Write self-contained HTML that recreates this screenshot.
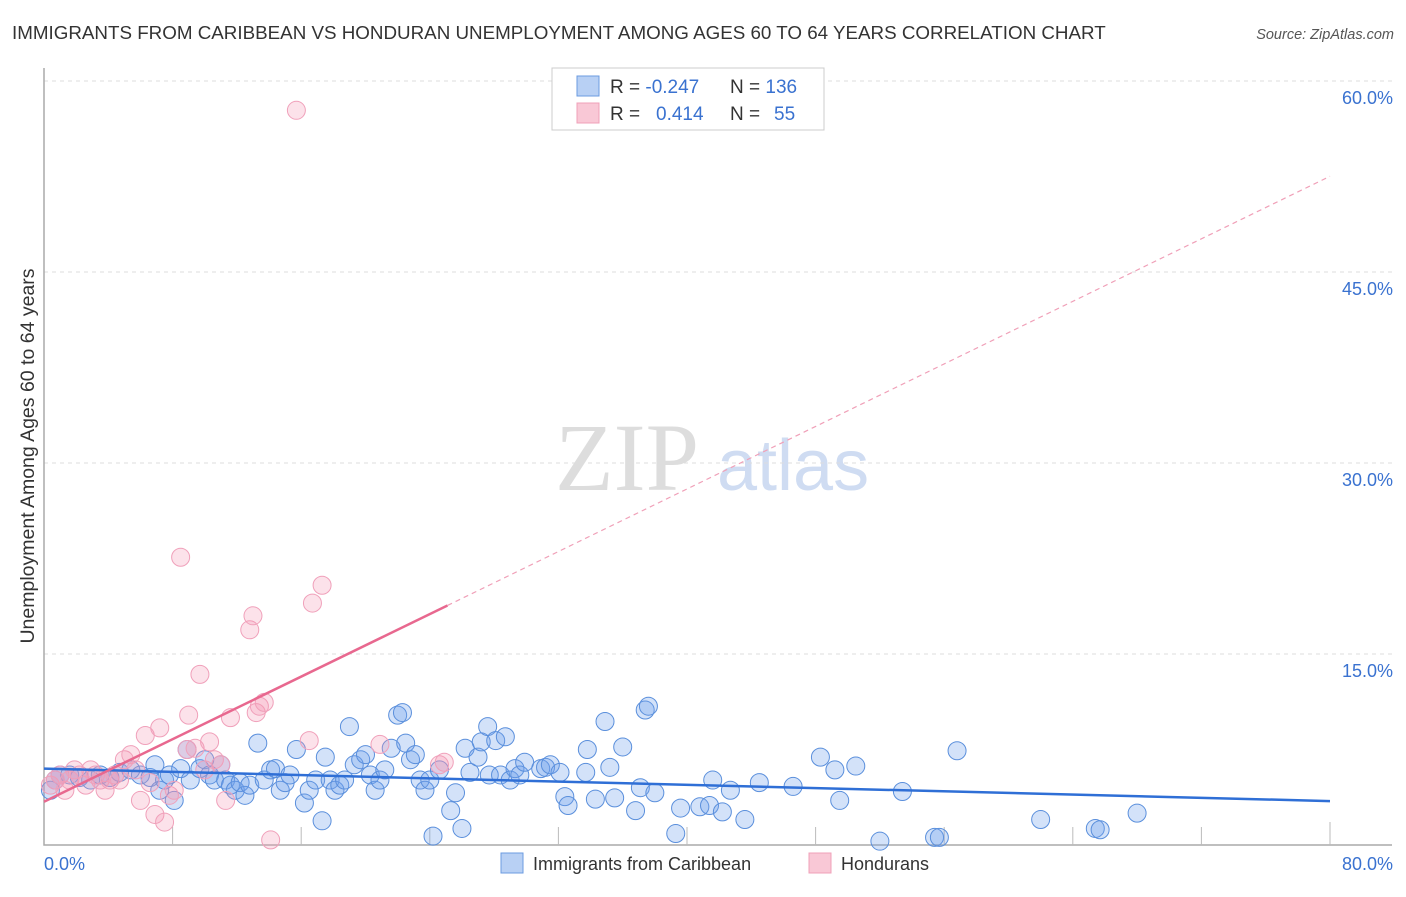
<!DOCTYPE html>
<html><head><meta charset="utf-8"><style>
body{margin:0;background:#fff;width:1406px;height:892px;overflow:hidden;font-family:"Liberation Sans",sans-serif}
</style></head><body>
<svg width="1406" height="892" xmlns="http://www.w3.org/2000/svg">
<text x="12" y="39" font-size="18.8" fill="#333">IMMIGRANTS FROM CARIBBEAN VS HONDURAN UNEMPLOYMENT AMONG AGES 60 TO 64 YEARS CORRELATION CHART</text>
<text x="1394" y="39" font-size="14.5" fill="#555" font-style="italic" text-anchor="end">Source: ZipAtlas.com</text>
<g>
<text x="555" y="490" font-size="96" font-family="Liberation Serif,serif" fill="#ddd">ZIP</text>
<text x="717" y="490" font-size="72" fill="#cfdcf2">atlas</text>
</g>
<g id="grid"></g>
<g id="axes"></g>
<g id="pts"></g>
<g id="lines"></g>
<text transform="translate(34,456) rotate(-90)" font-size="19.5" fill="#333" text-anchor="middle">Unemployment Among Ages 60 to 64 years</text>
<g>
<rect x="552" y="68" width="272" height="62" fill="#fff" stroke="#ccc"/>
<rect x="577" y="76" width="22" height="20" fill="#b8d0f4" stroke="#6b9be0"/>
<rect x="577" y="103" width="22" height="20" fill="#f9c8d6" stroke="#f0a0b8"/>
<text x="610" y="93" font-size="19" fill="#333">R = <tspan fill="#3a72d0">-0.247</tspan></text>
<text x="730" y="93" font-size="19" fill="#333">N = <tspan fill="#3a72d0">136</tspan></text>
<text x="610" y="120" font-size="19" fill="#333">R = <tspan fill="#3a72d0" x="656">0.414</tspan></text>
<text x="730" y="120" font-size="19" fill="#333">N = <tspan fill="#3a72d0" x="774">55</tspan></text>
</g>
<g>
<rect x="501" y="853" width="22" height="20" fill="#b8d0f4" stroke="#6b9be0"/>
<text x="533" y="870" font-size="18" fill="#333">Immigrants from Caribbean</text>
<rect x="809" y="853" width="22" height="20" fill="#f9c8d6" stroke="#f0a0b8"/>
<text x="841" y="870" font-size="18" fill="#333">Hondurans</text>
</g>
</svg>
<script>
const blueX=[0.4,0.7,1.0,1.6,2.2,2.9,3.5,4.1,4.7,5.4,6.0,6.6,6.9,7.2,7.5,7.8,8.1,8.5,8.9,9.1,9.7,10.0,10.3,10.6,11.0,11.3,11.6,11.9,12.2,12.5,12.8,13.3,13.7,14.1,14.4,14.7,15.0,15.3,15.7,16.2,16.5,16.9,17.3,17.5,17.8,18.1,18.4,18.7,19.0,19.3,19.7,20.0,20.3,20.6,20.9,21.2,21.6,22.0,22.3,22.5,22.8,23.1,23.4,23.7,24.0,24.2,24.6,25.3,25.6,26.0,26.2,26.5,27.0,27.2,27.6,27.7,28.1,28.4,28.7,29.0,29.3,29.6,29.9,30.9,31.2,31.5,32.1,32.4,32.6,33.7,33.8,34.3,34.9,35.2,35.5,36.0,36.8,37.1,37.4,37.6,38.0,39.3,39.6,40.8,41.4,41.6,42.2,42.7,43.6,44.5,46.6,48.3,49.2,49.5,50.5,52.0,53.4,55.4,55.7,56.8,62.0,65.4,65.7,68.0];
const blueY=[4.3,5.1,5.5,5.5,5.3,5.1,5.5,5.3,5.7,5.9,5.5,5.3,6.3,4.3,5.1,5.5,3.5,6.0,7.5,5.1,6.0,6.7,5.5,5.1,6.3,5.1,4.7,4.3,4.9,3.9,4.7,8.0,5.1,5.9,6.0,4.3,4.9,5.5,7.5,3.3,4.3,5.1,1.9,6.9,5.1,4.3,4.7,5.1,9.3,6.3,6.7,7.1,5.5,4.3,5.1,5.9,7.6,10.2,10.4,8.0,6.7,7.1,5.1,4.3,5.1,0.7,5.9,2.7,4.1,1.3,7.6,5.7,6.9,8.1,9.3,5.5,8.2,5.5,8.5,5.1,6.0,5.5,6.5,6.0,6.1,6.3,5.7,3.8,3.1,5.7,7.5,3.6,9.7,6.1,3.7,7.7,2.7,4.5,10.6,10.9,4.1,0.9,2.9,3.0,3.1,5.1,2.6,4.3,2.0,4.9,4.6,6.9,5.9,3.5,6.2,0.3,4.2,0.6,0.6,7.4,2.0,1.3,1.2,2.5];
const pinkX=[0.4,0.7,1.0,1.3,1.6,1.9,2.2,2.6,2.9,3.2,3.5,3.8,4.1,4.4,4.7,5.0,5.4,5.7,6.0,6.3,6.6,6.9,7.2,7.5,7.8,8.1,8.5,8.9,9.0,9.4,9.7,10.0,10.3,10.6,11.0,11.3,11.6,12.8,13.0,13.2,13.4,13.7,14.1,15.7,16.5,16.7,17.3,20.9,24.6,24.9];
const pinkY=[4.7,5.1,5.5,4.3,5.1,5.9,5.5,4.7,5.9,5.5,5.1,4.3,5.1,5.5,5.1,6.7,7.1,5.9,3.5,8.6,4.9,2.4,9.2,1.8,3.9,4.3,22.6,7.5,10.2,7.6,13.4,5.9,8.1,6.7,6.3,3.5,10.0,16.9,18.0,10.4,10.9,11.2,0.4,57.7,8.2,19.0,20.4,7.9,6.3,6.5];
const yTicks=[15,30,45,60];
const yTickLabels=["15.0%","30.0%","45.0%","60.0%"];
const xTicks=[8,16,24,32,40,48,56,64,72,80];
const blueTrend=[6.0,3.45];
const pinkTrend=[3.4,0.614,25.1];
const X=v=>44+v*16.075, Y=v=>845-v*12.733;
const NS="http://www.w3.org/2000/svg";
function mk(p,t,a){const e=document.createElementNS(NS,t);for(const k in a)e.setAttribute(k,a[k]);document.getElementById(p).appendChild(e);return e;}
yTicks.forEach((t,i)=>{
 const l=mk('grid','line',{x1:44,x2:1392,y1:Y(t),y2:Y(t),stroke:'#ddd','stroke-dasharray':'4,4'});
 
 
 const tx=mk('grid','text',{x:1393,y:Y(t)+23,'font-size':18,fill:'#3a72d0','text-anchor':'end'});
 tx.textContent=yTickLabels[i];
 
 
});
const ax=mk('axes','path',{d:'M44,68V845H1392',fill:'none',stroke:'#aaa','stroke-width':1.5});


xTicks.forEach(t=>{
 const l=mk('axes','line',{x1:X(t),x2:X(t),y1:845,y2:t==80?822:827,stroke:'#bbb'});
 
 
});
const x0=mk('axes','text',{x:44,y:870,'font-size':18,fill:'#3a72d0'});x0.textContent='0.0%';


const x1=mk('axes','text',{x:1393,y:870,'font-size':18,fill:'#3a72d0','text-anchor':'end'});x1.textContent='80.0%';


blueX.forEach((v,i)=>{
 const c=mk('pts','circle',{cx:X(v),cy:Y(blueY[i]),r:9,fill:'rgba(110,160,235,0.3)',stroke:'#5a8fdc','stroke-width':1});
 
 
});
pinkX.forEach((v,i)=>{
 const c=mk('pts','circle',{cx:X(v),cy:Y(pinkY[i]),r:9,fill:'rgba(245,150,180,0.28)',stroke:'#f0a0ba','stroke-width':1});
 
 
});
const bl=mk('lines','line',{x1:X(0),y1:Y(blueTrend[0]),x2:X(80),y2:Y(blueTrend[1]),stroke:'#2f6fd6','stroke-width':2.5});


const pEnd=pinkTrend[2];
const ps=mk('lines','line',{x1:X(0),y1:Y(pinkTrend[0]),x2:X(pEnd),y2:Y(pinkTrend[0]+pinkTrend[1]*pEnd),stroke:'#e8688f','stroke-width':2.5});


const pd=mk('lines','line',{x1:X(pEnd),y1:Y(pinkTrend[0]+pinkTrend[1]*pEnd),x2:X(80),y2:Y(pinkTrend[0]+pinkTrend[1]*80),stroke:'#f0a0b8','stroke-width':1.2,'stroke-dasharray':'5,4'});


</script>
</body></html>
